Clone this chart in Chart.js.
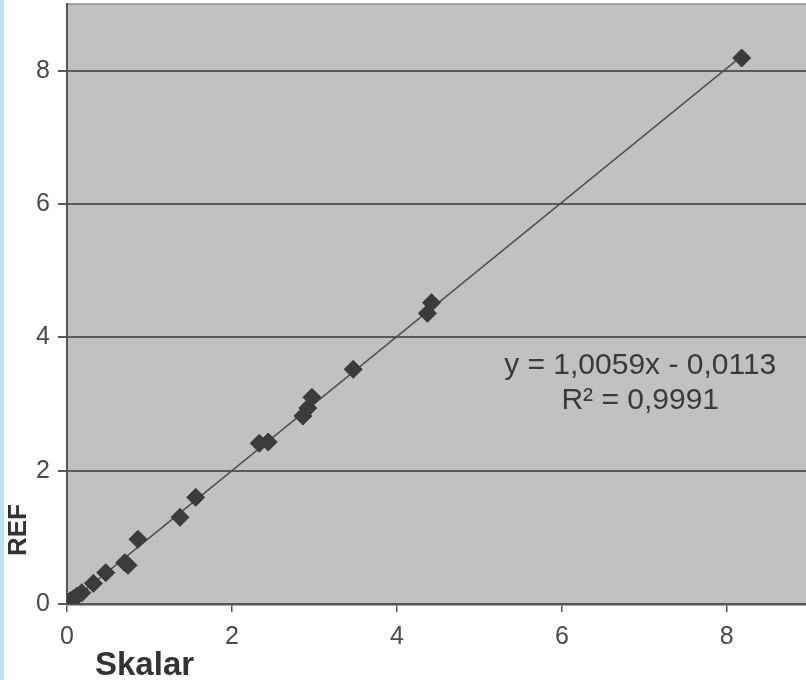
<!DOCTYPE html>
<html>
<head>
<meta charset="utf-8">
<script src="https://cdn.jsdelivr.net/npm/chart.js@4"></script>
<style>
  html, body { margin: 0; padding: 0; background: #ffffff; }
  #wrap { position: relative; width: 806px; height: 680px; }
  canvas { display: block; }
</style>
</head>
<body>
<div id="wrap"><canvas id="c" width="806" height="680"></canvas></div>
<script>
// ---- data ----
const skalarValues = [0.04, 0.08, 0.12, 0.18, 0.32, 0.47, 0.70, 0.74, 0.86, 1.37, 1.56, 2.33, 2.44, 2.86, 2.92, 2.97, 3.47, 4.37, 4.42, 8.18];
const refValues    = [0.05, 0.08, 0.12, 0.17, 0.31, 0.47, 0.62, 0.58, 0.97, 1.30, 1.60, 2.41, 2.43, 2.82, 2.94, 3.10, 3.52, 4.36, 4.52, 8.19];
const xTicks = [0, 2, 4, 6, 8];
const yTicks = [0, 2, 4, 6, 8];
const trendSlope = 1.0059;
const trendIntercept = -0.0113;
const equationLines = ['y = 1,0059x - 0,0113', 'R\u00b2 = 0,9991'];
const xTitle = 'Skalar';
const yTitle = 'REF';

const points = skalarValues.map((x, i) => ({ x: x, y: refValues[i] }));
const xMin = Math.min(...skalarValues), xMax = Math.max(...skalarValues);
const trendPoints = [xMin, xMax].map(x => ({ x: x, y: trendSlope * x + trendIntercept }));

const FONT = '"Liberation Sans", Arial, sans-serif';

const decor = {
  id: 'decor',
  beforeDraw(chart) {
    const { ctx, chartArea: a } = chart;
    ctx.save();
    ctx.fillStyle = '#bfc1c3';
    ctx.fillRect(a.left, a.top, a.right - a.left, a.bottom - a.top);
    ctx.strokeStyle = '#8e8f91';
    ctx.lineWidth = 1.5;
    ctx.beginPath();
    ctx.moveTo(a.left, a.top);
    ctx.lineTo(a.right, a.top);
    ctx.stroke();
    // light blue strip at left edge
    ctx.fillStyle = '#bfe1f6';
    ctx.fillRect(0, 0, 4, chart.height);
    ctx.restore();
  },
  afterDraw(chart) {
    const { ctx, scales } = chart;
    ctx.save();
    // equation
    ctx.fillStyle = '#3a3a3a';
    ctx.font = '30px ' + FONT;
    ctx.textAlign = 'center';
    ctx.textBaseline = 'alphabetic';
    const ex = scales.x.getPixelForValue(6.95);
    const ey = scales.y.getPixelForValue(3.45);
    ctx.fillText(equationLines[0], ex, ey);
    ctx.fillText(equationLines[1], ex, ey + 35);
    // axis titles
    ctx.fillStyle = '#333333';
    ctx.font = 'bold 33px ' + FONT;
    ctx.textAlign = 'left';
    ctx.fillText(xTitle, 95, 675);
    ctx.translate(26, 530);
    ctx.rotate(-Math.PI / 2);
    ctx.textAlign = 'center';
    ctx.font = 'bold 26px ' + FONT;
    ctx.fillText(yTitle, 0, 0);
    ctx.restore();
  }
};

new Chart(document.getElementById('c'), {
  type: 'scatter',
  data: {
    datasets: [
      {
        label: 'Trend',
        type: 'line',
        data: trendPoints,
        borderColor: '#505050',
        borderWidth: 1.5,
        pointRadius: 0,
        fill: false,
        order: 2
      },
      {
        label: 'REF',
        data: points,
        pointStyle: 'rectRot',
        pointRadius: 9,
        pointHoverRadius: 9,
        backgroundColor: '#3b3b3b',
        borderColor: '#3b3b3b',
        borderWidth: 1,
        order: 1
      }
    ]
  },
  options: {
    responsive: false,
    animation: false,
    layout: { autoPadding: false, padding: { top: 4, right: 0, left: 0, bottom: 0 } },
    plugins: { legend: { display: false }, tooltip: { enabled: false } },
    scales: {
      x: {
        type: 'linear',
        min: 0, max: 8.96,
        afterBuildTicks(scale) { scale.ticks = xTicks.map(v => ({ value: v })); },
        afterFit(scale) { scale.height = 76; scale.paddingLeft = 0; scale.paddingRight = 0; },
        border: { display: true, color: '#555555', width: 2.5 },
        grid: { drawOnChartArea: false, drawTicks: true, tickLength: 8, color: '#555555', lineWidth: 1.5 },
        ticks: { color: '#4a4a4a', font: { family: FONT, size: 25 }, padding: 10, maxRotation: 0 }
      },
      y: {
        type: 'linear',
        min: 0, max: 9,
        afterBuildTicks(scale) { scale.ticks = yTicks.map(v => ({ value: v })); },
        afterFit(scale) { scale.width = 67; scale.paddingTop = 0; scale.paddingBottom = 0; },
        border: { display: true, color: '#555555', width: 2 },
        grid: { drawOnChartArea: true, drawTicks: true, tickLength: 9, color: '#5a5a5a', lineWidth: 2 },
        ticks: { color: '#4a4a4a', font: { family: FONT, size: 25 }, padding: 8 }
      }
    }
  },
  plugins: [decor]
});
</script>
</body>
</html>
